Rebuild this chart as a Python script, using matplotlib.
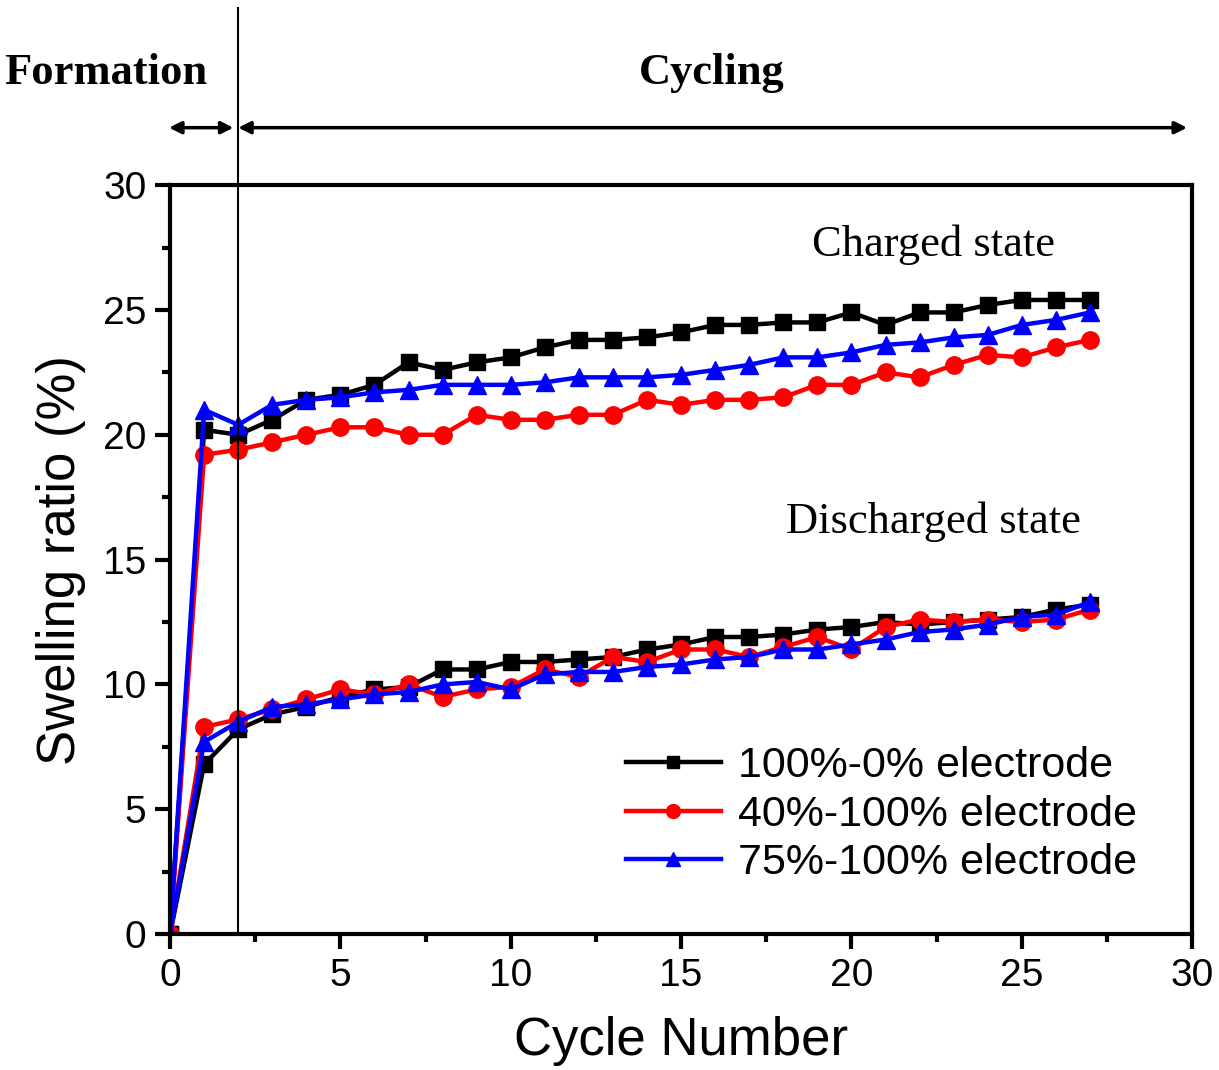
import matplotlib.pyplot as plt

cycles = list(range(0, 28))

# charged state
black_chg = [0, 20.2, 20.0, 20.6, 21.4, 21.6, 22.0, 22.9, 22.6, 22.9, 23.1, 23.5, 23.8, 23.8,
             23.9, 24.1, 24.4, 24.4, 24.5, 24.5, 24.9, 24.4, 24.9, 24.9, 25.2, 25.4, 25.4, 25.4]
red_chg = [0, 19.2, 19.4, 19.7, 20.0, 20.3, 20.3, 20.0, 20.0, 20.8, 20.6, 20.6, 20.8, 20.8,
           21.4, 21.2, 21.4, 21.4, 21.5, 22.0, 22.0, 22.5, 22.3, 22.8, 23.2, 23.1, 23.5, 23.8]
blue_chg = [0, 21.0, 20.4, 21.2, 21.4, 21.5, 21.7, 21.8, 22.0, 22.0, 22.0, 22.1, 22.3, 22.3,
            22.3, 22.4, 22.6, 22.8, 23.1, 23.1, 23.3, 23.6, 23.7, 23.9, 24.0, 24.4, 24.6, 24.9]

# discharged state
black_dis = [0, 6.8, 8.2, 8.8, 9.1, 9.5, 9.8, 9.9, 10.6, 10.6, 10.9, 10.9, 11.0, 11.1,
             11.4, 11.6, 11.9, 11.9, 12.0, 12.2, 12.3, 12.5, 12.4, 12.5, 12.6, 12.7, 13.0, 13.2]
red_dis = [0, 8.3, 8.6, 9.0, 9.4, 9.8, 9.6, 10.0, 9.5, 9.8, 9.9, 10.6, 10.3, 11.1,
           10.9, 11.4, 11.4, 11.1, 11.5, 11.9, 11.4, 12.3, 12.6, 12.5, 12.6, 12.5, 12.6, 13.0]
blue_dis = [0, 7.7, 8.5, 9.1, 9.2, 9.4, 9.6, 9.7, 10.0, 10.1, 9.8, 10.4, 10.5, 10.5,
            10.7, 10.8, 11.0, 11.1, 11.4, 11.4, 11.6, 11.8, 12.1, 12.2, 12.4, 12.7, 12.8, 13.3]

labels = ['100%-0% electrode', '40%-100% electrode', '75%-100% electrode']

sans = ['Liberation Sans', 'DejaVu Sans']
serif = 'Liberation Serif'

fig = plt.figure(figsize=(12.19, 10.70), dpi=100)
ax = fig.add_axes([0.1395, 0.127, 0.8385, 0.700])

styles = [('black', 's', 11), ('red', 'o', 12.5), ('blue', '^', 12.5)]
for (c, m, ms), chg, dis, lab in zip(styles, [black_chg, red_chg, blue_chg],
                                     [black_dis, red_dis, blue_dis], labels):
    ax.plot(cycles, chg, color=c, marker=m, markersize=ms, linewidth=3.2, label=lab)
    ax.plot(cycles, dis, color=c, marker=m, markersize=ms, linewidth=3.2)

ax.set_xlim(0, 30)
ax.set_ylim(0, 30)
ax.set_xticks(range(0, 31, 5))
ax.set_yticks(range(0, 31, 5))
ax.set_xticks([2.5 + 5 * i for i in range(6)], minor=True)
ax.set_yticks([2.5 + 5 * i for i in range(6)], minor=True)
ax.tick_params(which='both', direction='out', width=3, top=False, right=False)
ax.tick_params(which='major', length=11, labelsize=28, pad=6)
ax.tick_params(which='minor', length=6)
for lbl in ax.get_xticklabels() + ax.get_yticklabels():
    lbl.set_family(sans)
for s in ax.spines.values():
    s.set_linewidth(3)

ax.set_xlabel('Cycle Number', fontsize=38, family=sans, labelpad=16)
ax.set_ylabel('Swelling ratio (%)', fontsize=38, family=sans, labelpad=12)

# formation / cycling separator and arrows
ax.plot([2, 2], [0, 37.1], color='black', linewidth=1.5, clip_on=False)
ax.annotate('', xy=(-0.03, 32.3), xytext=(1.86, 32.3), annotation_clip=False,
            arrowprops=dict(arrowstyle='<|-|>', color='black', lw=2.5, mutation_scale=18,
                            shrinkA=0, shrinkB=0))
ax.annotate('', xy=(2.0, 32.3), xytext=(29.85, 32.3), annotation_clip=False,
            arrowprops=dict(arrowstyle='<|-|>', color='black', lw=2.5, mutation_scale=18,
                            shrinkA=0, shrinkB=0))
ax.text(-1.9, 34.5, 'Formation', fontsize=32, family=serif, fontweight='bold',
        ha='center', va='center', clip_on=False)
ax.text(15.9, 34.5, 'Cycling', fontsize=32, family=serif, fontweight='bold',
        ha='center', va='center', clip_on=False)

ax.text(22.4, 27.6, 'Charged state', fontsize=32, family=serif, ha='center', va='center')
ax.text(22.4, 16.5, 'Discharged state', fontsize=32, family=serif, ha='center', va='center')

leg = ax.legend(loc='lower right', bbox_to_anchor=(0.963, 0.045), frameon=False,
                prop={'family': sans, 'size': 31}, handlelength=2.2, handletextpad=0.4,
                labelspacing=0.2, borderaxespad=0, markerscale=0.8)

fig.savefig('out.png', dpi=100)
